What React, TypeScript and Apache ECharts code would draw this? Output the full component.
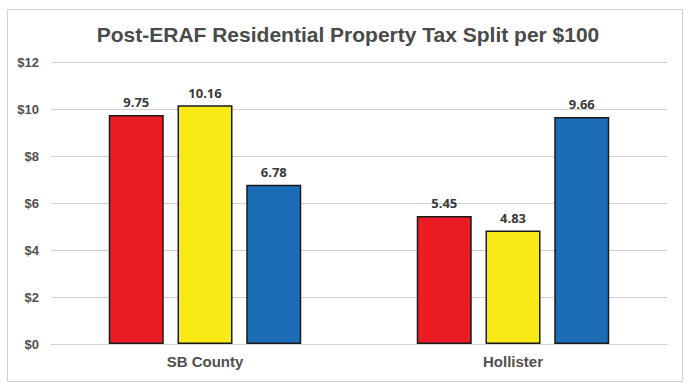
import React, { useEffect, useRef } from "react";
import * as echarts from "echarts";

const title = "Post-ERAF Residential Property Tax Split per $100";
const categories = ["SB County", "Hollister"];
const seriesA = [9.75, 5.45];
const seriesB = [10.16, 4.83];
const seriesC = [6.78, 9.66];
const colors = ["#EC1C24", "#F7EA16", "#1C6DB5"];
const yTicks = { min: 0, max: 12, interval: 2 };

export default function App() {
  const ref = useRef<HTMLDivElement>(null);
  useEffect(() => {
    if (!ref.current) return;
    const chart = echarts.init(ref.current, null, { renderer: "svg" });
    const font = "'Liberation Sans', Arial, sans-serif";
    const mk = (name: string, data: number[], color: string) => ({
      name,
      type: "bar",
      data,
      barWidth: 55,
      barGap: "25%",
      itemStyle: { color, borderColor: "#1a1a1a", borderWidth: 1.5 },
      label: {
        show: true,
        position: "top",
        distance: 6,
        fontFamily: "'Open Sans', 'DejaVu Sans', sans-serif",
        fontWeight: "bold",
        fontSize: 13,
        color: "#3a3a3a",
        formatter: (p: any) => p.value.toFixed(2),
      },
    });
    chart.setOption({
      animation: false,
      backgroundColor: "#ffffff",
      title: {
        text: title,
        left: "center",
        top: 19,
        textStyle: { fontFamily: font, fontWeight: "bold", fontSize: 21, color: "#4a4a4a" },
      },
      graphic: [
        {
          type: "rect",
          shape: { x: 7.5, y: 9.5, width: 675, height: 372 },
          style: { fill: "none", stroke: "#d0d0d0", lineWidth: 1 },
          silent: true,
        },
      ],
      grid: { left: 51, right: 29, top: 62, bottom: 41, containLabel: false },
      xAxis: {
        type: "category",
        data: categories,
        axisLine: { show: true, lineStyle: { color: "#d0d0d0", width: 1 } },
        axisTick: { show: false },
        axisLabel: {
          fontFamily: font,
          fontWeight: "bold",
          fontSize: 15,
          color: "#505050",
          margin: 10,
        },
      },
      yAxis: {
        type: "value",
        min: yTicks.min,
        max: yTicks.max,
        interval: yTicks.interval,
        axisLine: { show: false },
        axisTick: { show: false },
        splitLine: { lineStyle: { color: "#d0d0d0", width: 1 } },
        axisLabel: {
          fontFamily: font,
          fontWeight: "bold",
          fontSize: 13,
          color: "#505050",
          margin: 12,
          formatter: (v: number) => "$" + v,
        },
      },
      series: [mk("A", seriesA, colors[0]), mk("B", seriesB, colors[1]), mk("C", seriesC, colors[2])],
    });
    return () => chart.dispose();
  }, []);
  return (
    <div
      ref={ref}
      style={{ position: "absolute", left: 0, top: 0, width: 696, height: 385 }}
    />
  );
}
